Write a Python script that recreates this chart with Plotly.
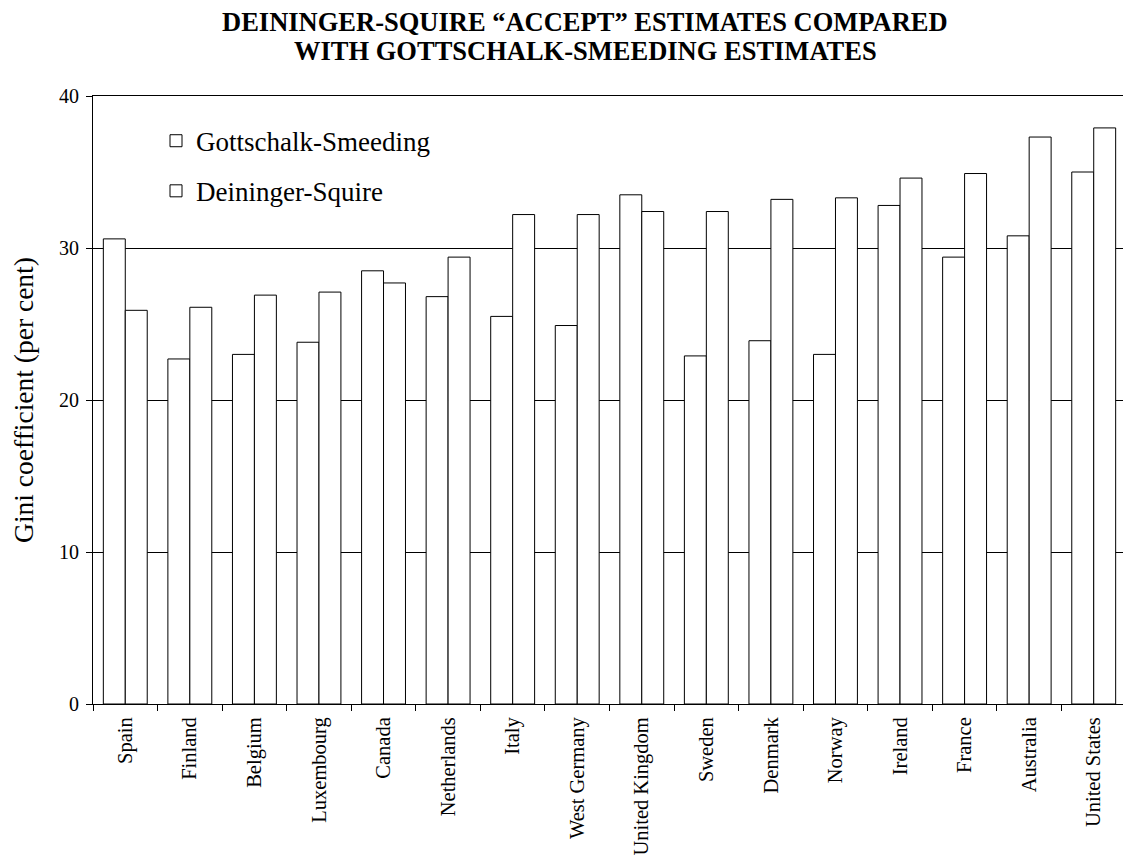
import plotly.graph_objects as go

countries = ["Spain", "Finland", "Belgium", "Luxembourg", "Canada", "Netherlands", "Italy",
             "West Germany", "United Kingdom", "Sweden", "Denmark", "Norway", "Ireland",
             "France", "Australia", "United States"]
gottschalk_smeeding = [30.6, 22.7, 23.0, 23.8, 28.5, 26.8, 25.5, 24.9, 33.5, 22.9, 23.9, 23.0,
                       32.8, 29.4, 30.8, 35.0]
deininger_squire = [25.9, 26.1, 26.9, 27.1, 27.7, 29.4, 32.2, 32.2, 32.4, 32.4, 33.2, 33.3,
                    34.6, 34.9, 37.3, 37.9]
y_ticks = [0, 10, 20, 30, 40]
title_lines = ["DEININGER-SQUIRE “ACCEPT” ESTIMATES COMPARED",
               "WITH GOTTSCHALK-SMEEDING ESTIMATES"]

FONT = "Liberation Serif, Times New Roman, serif"

fig = go.Figure()
fig.add_trace(go.Bar(x=countries, y=gottschalk_smeeding, name="Gottschalk-Smeeding",
                     marker=dict(color="white", line=dict(color="black", width=1)),
                     legendgroup="a"))
fig.add_trace(go.Bar(x=countries, y=deininger_squire, name="Deininger-Squire",
                     marker=dict(color="white", line=dict(color="black", width=1)),
                     legendgroup="b"))

for line, ypos in zip(title_lines, [1.122, 1.0735]):
    fig.add_annotation(text="<b>" + line + "</b>", xref="paper", yref="paper",
                       x=0.4763, y=ypos, xanchor="center", yanchor="middle",
                       showarrow=False, font=dict(family=FONT, size=26.5, color="black"))

fig.update_layout(
    width=1123, height=849,
    margin=dict(l=85, r=5, t=88, b=153),
    paper_bgcolor="white", plot_bgcolor="white",
    font=dict(family=FONT, color="black"),
    barmode="group", bargap=0.32, bargroupgap=0,
    legend=dict(x=0.061, y=0.966, xanchor="left", yanchor="top",
                font=dict(family=FONT, size=27, color="black"),
                bgcolor="rgba(0,0,0,0)", traceorder="grouped", tracegroupgap=12),
    xaxis=dict(type="category", range=[-0.5, 15.5], showgrid=False, automargin=False,
               showline=True, linecolor="black", linewidth=1, mirror=True,
               ticks="outside", tickson="boundaries", ticklen=6, tickcolor="black",
               tickangle=-90, ticklabelstandoff=4,
               tickfont=dict(family=FONT, size=20.5, color="black")),
    yaxis=dict(range=[0, 40], tickvals=y_ticks, showgrid=True, gridcolor="black", gridwidth=1,
               showline=True, linecolor="black", linewidth=1, automargin=False,
               ticks="outside", ticklen=6, tickcolor="black", ticklabelstandoff=3,
               tickfont=dict(family=FONT, size=20, color="black"),
               title=dict(text="Gini coefficient (per cent)", standoff=17,
                          font=dict(family=FONT, size=27.5, color="black"))),
)

fig.write_html("out.html")
